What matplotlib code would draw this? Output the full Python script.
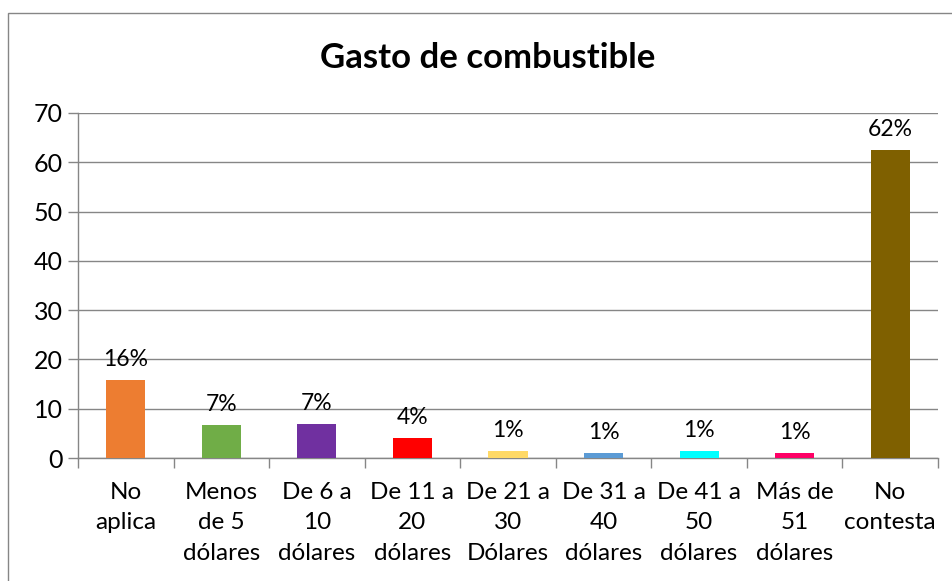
import matplotlib
matplotlib.use("Agg")
import matplotlib.pyplot as plt
import numpy as np
from matplotlib.patches import Rectangle

plt.rcParams['font.family'] = ['Lato', 'DejaVu Sans']

categories = ["No\naplica", "Menos\nde 5\ndólares", "De 6 a\n10\ndólares", "De 11 a\n20\ndólares",
              "De 21 a\n30\nDólares", "De 31 a\n40\ndólares", "De 41 a\n50\ndólares",
              "Más de\n51\ndólares", "No\ncontesta"]
values = [15.8, 6.7, 6.9, 4.0, 1.4, 1.0, 1.4, 1.0, 62.5]
labels = ["16%", "7%", "7%", "4%", "1%", "1%", "1%", "1%", "62%"]
colors = ["#ED7D31", "#70AD47", "#7030A0", "#FF0000", "#FFD966", "#5B9BD5",
          "#00FFFF", "#FF0066", "#7F6000"]
yticks = [0, 10, 20, 30, 40, 50, 60, 70]
title = "Gasto de combustible"

fig = plt.figure(figsize=(9.53, 5.81), dpi=100)
ax = fig.add_axes([78/953, 1-458/581, (938-78)/953, (458-113)/581])

x = np.arange(len(categories))
ax.bar(x, values, width=0.41, color=colors, zorder=3)
for xi, v, lab in zip(x, values, labels):
    ax.text(xi, v + 2.0, lab, ha='center', va='bottom', fontsize=16.5, color='black')

ax.set_xlim(-0.5, len(categories) - 0.5)
ax.set_ylim(0, 70)
ax.set_yticks(yticks)
ax.set_yticklabels([str(t) for t in yticks], fontsize=18)
ax.yaxis.grid(True, color='#868686', linewidth=1, zorder=0)
ax.set_axisbelow(True)

ax.set_xticks(x)
ax.set_xticklabels(categories, fontsize=17.5, linespacing=1.58, va='top')
ax.tick_params(axis='x', which='major', length=0, pad=17)
ax.set_xticks(np.arange(-0.5, len(categories)), minor=True)
ax.tick_params(axis='x', which='minor', length=7, color='#868686', width=1)
ax.tick_params(axis='y', length=7, color='#868686', width=1, pad=4)

for s in ['top', 'right']:
    ax.spines[s].set_visible(False)
for s in ['left', 'bottom']:
    ax.spines[s].set_color('#868686')
    ax.spines[s].set_linewidth(1)

fig.text(488/953, 1-58/581, title, ha='center', va='center', fontsize=25, fontweight='bold')

fig.patches.append(Rectangle((8/953, -0.1), 1.2, 1 - 13/581 + 0.1, transform=fig.transFigure,
                             fill=False, edgecolor='#868686', linewidth=1))

fig.savefig("out.png", dpi=100)
